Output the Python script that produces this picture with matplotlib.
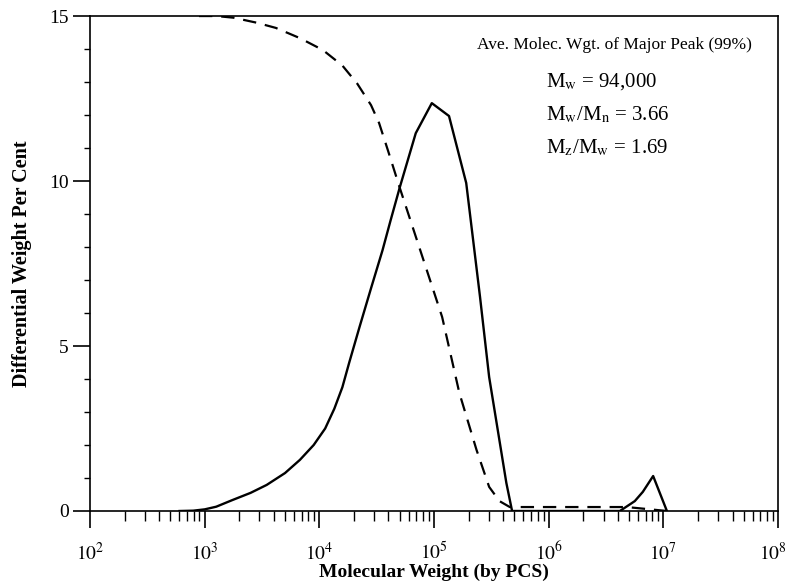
import numpy as np
import matplotlib.pyplot as plt
from matplotlib.ticker import LogLocator, MultipleLocator, FuncFormatter

plt.rcParams['font.family'] = ['Liberation Serif', 'DejaVu Serif']
plt.rcParams['mathtext.fontset'] = 'stix'

# differential weight distribution (solid), x given as log10(M)
diff_logm = [2.78, 2.9, 3.0, 3.1, 3.24, 3.4, 3.54, 3.7, 3.83, 3.95, 4.05, 4.13, 4.2,
             4.26, 4.35, 4.45, 4.55, 4.62, 4.70, 4.84, 4.98, 5.13, 5.28, 5.40,
             5.48, 5.63, 5.68, 6.62, 6.75, 6.82, 6.91, 7.03]
diff_pct = [0.0, 0.01, 0.05, 0.13, 0.33, 0.55, 0.79, 1.15, 1.55, 2.0, 2.5, 3.1, 3.75,
            4.5, 5.58, 6.75, 7.9, 8.8, 9.8, 11.45, 12.36, 11.97, 9.94, 6.5,
            4.06, 0.85, 0.0, 0.0, 0.3, 0.58, 1.06, 0.0]

# cumulative weight (dashed)
cum_logm = [2.95, 3.1, 3.25, 3.45, 3.62, 3.83, 4.03, 4.2, 4.33, 4.45, 4.52, 4.6, 4.70,
            4.87, 5.07, 5.22, 5.37, 5.48, 5.57, 5.66, 6.68, 7.03]
cum_pct = [15.0, 15.0, 14.95, 14.8, 14.64, 14.33, 13.97, 13.5, 12.95, 12.3, 11.76, 10.9,
           9.8, 8.0, 5.88, 3.58, 1.85, 0.73, 0.3, 0.12, 0.12, 0.0]

fig = plt.figure(figsize=(7.9, 5.83), dpi=100)
ax = fig.add_axes([0.114, 0.1235, 0.871, 0.849])

ax.plot(10 ** np.array(diff_logm), diff_pct, color='black', lw=1.7)
ax.plot(10 ** np.array(cum_logm), cum_pct, color='black', lw=1.6, ls=(0, (6, 4)))

ax.set_xscale('log')
ax.set_xlim(1e2, 1e8)
ax.set_ylim(0, 15)
ax.xaxis.set_major_locator(LogLocator(base=10, numticks=10))
ax.xaxis.set_minor_locator(LogLocator(base=10, subs=np.arange(2, 10), numticks=20))


def dec_label(v, pos):
    e = int(round(np.log10(v)))
    if e >= 8:
        return ''  # drawn separately so it stays inside the figure
    return r'$\mathrm{10^{%d}}$' % e


ax.xaxis.set_major_formatter(FuncFormatter(dec_label))
ax.yaxis.set_major_locator(MultipleLocator(5))
ax.yaxis.set_minor_locator(MultipleLocator(1))
ax.tick_params(which='major', direction='out', length=12, width=1.2, labelsize=14)
ax.tick_params(axis='x', which='minor', direction='out', length=7, width=1)
ax.tick_params(axis='y', which='minor', direction='out', length=4, width=1)
ax.tick_params(axis='x', which='major', pad=10)
for s in ax.spines.values():
    s.set_linewidth(1.2)

ax.annotate(r'$\mathrm{10^{8}}$', xy=(1e8, 0), xycoords=('data', 'axes fraction'),
            xytext=(-4, -22), textcoords='offset points', ha='center', va='top',
            fontsize=14)

ax.set_xlabel('Molecular Weight (by PCS)', fontsize=14, fontweight='bold', labelpad=0)
ax.set_ylabel('Differential Weight Per Cent', fontsize=14.5, fontweight='bold', labelpad=12)

ax.text(0.962, 0.941, 'Ave. Molec. Wgt. of Major Peak (99%)', transform=ax.transAxes,
        ha='right', va='center', fontsize=12.5)
ax.text(0.663, 0.867, r'M$_{\mathrm{w}}$ = 94,000', transform=ax.transAxes,
        ha='left', va='center', fontsize=15)
ax.text(0.663, 0.800, r'M$_{\mathrm{w}}$/M$_{\mathrm{n}}$ = 3.66', transform=ax.transAxes,
        ha='left', va='center', fontsize=15)
ax.text(0.663, 0.733, r'M$_{\mathrm{z}}$/M$_{\mathrm{w}}$ = 1.69', transform=ax.transAxes,
        ha='left', va='center', fontsize=15)

fig.savefig('out.png', dpi=100)
